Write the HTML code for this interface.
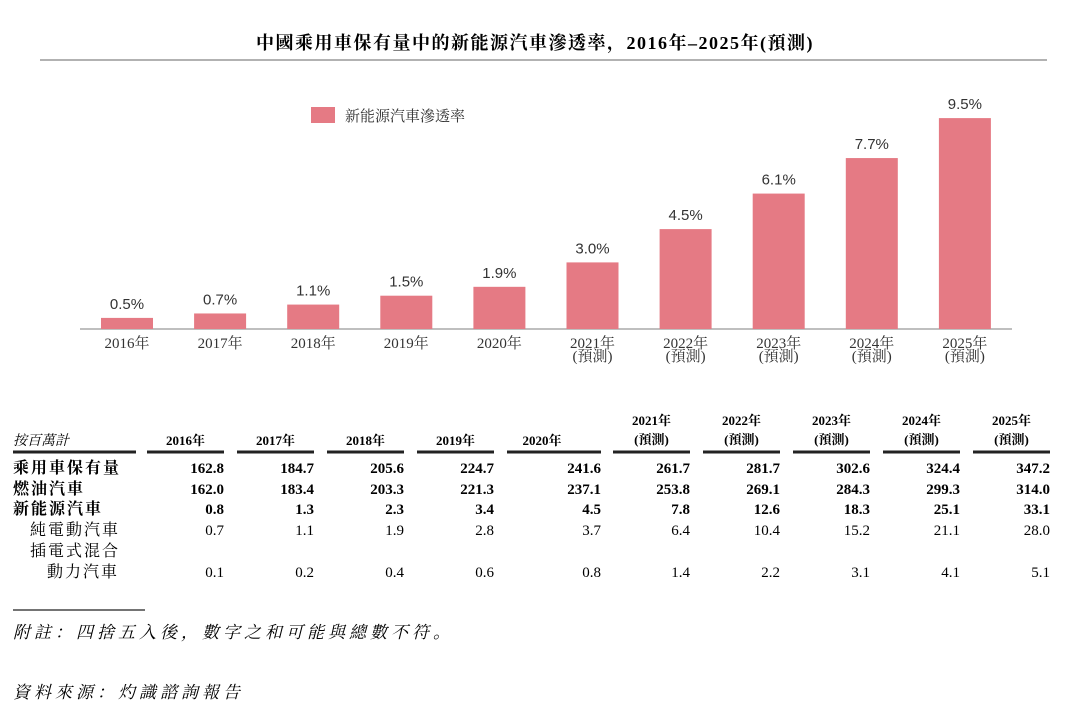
<!DOCTYPE html>
<html><head><meta charset="utf-8"><style>
body{margin:0;width:1080px;height:715px;background:#fff;overflow:hidden;font-family:"Liberation Serif","Noto Serif CJK SC","Noto Sans CJK TC",serif;color:#222}
svg text{font-family:"Liberation Serif","Noto Serif CJK SC","Noto Sans CJK TC",serif}
</style></head><body>
<svg id="chart" width="1080" height="715" style="position:absolute;left:0;top:0">
<text x="535" y="49" text-anchor="middle" font-size="18" font-weight="bold" letter-spacing="1.5">中國乘用車保有量中的新能源汽車滲透率，2016年–2025年(預測)</text>
<line x1="40" y1="60" x2="1047" y2="60" stroke="#999" stroke-width="1.5"/>
<rect x="311" y="107" width="24" height="16" fill="#e57a84"/>
<text x="345" y="121" font-size="15" fill="#333">新能源汽車滲透率</text>
<line x1="80" y1="329" x2="1012" y2="329" stroke="#aaa" stroke-width="1.5"/>
<g id="bars"></g>
<g id="table"></g>
<line x1="13" y1="610" x2="145" y2="610" stroke="#222" stroke-width="1.2"/>
<text x="13" y="638" font-size="17" font-style="italic" letter-spacing="4">附註：四捨五入後，數字之和可能與總數不符。</text>
<text x="13" y="698" font-size="17" font-style="italic" letter-spacing="4">資料來源：灼識諮詢報告</text>
</svg>
<script>
const years=["2016","2017","2018","2019","2020","2021","2022","2023","2024","2025"];
const forecast=[false,false,false,false,false,true,true,true,true,true];
const penetration=[0.5,0.7,1.1,1.5,1.9,3.0,4.5,6.1,7.7,9.5];
const rowLabels=["乘用車保有量","燃油汽車","新能源汽車","純電動汽車","動力汽車"];
const rowBold=[true,true,true,false,false];
const totalCars=[162.8,184.7,205.6,224.7,241.6,261.7,281.7,302.6,324.4,347.2];
const fuelCars=[162.0,183.4,203.3,221.3,237.1,253.8,269.1,284.3,299.3,314.0];
const nevCars=[0.8,1.3,2.3,3.4,4.5,7.8,12.6,18.3,25.1,33.1];
const bevCars=[0.7,1.1,1.9,2.8,3.7,6.4,10.4,15.2,21.1,28.0];
const phevCars=[0.1,0.2,0.4,0.6,0.8,1.4,2.2,3.1,4.1,5.1];
const NS="http://www.w3.org/2000/svg";
function mk(tag,attrs,parent,txt){const e=document.createElementNS(NS,tag);for(const k in attrs)e.setAttribute(k,attrs[k]);if(txt!==undefined)e.textContent=txt;parent.appendChild(e);return e;}
const base=329,scale=22.2,x0=127,step=93.1,bw=52;
const xS=i=>x0+i*step, yS=v=>base-v*scale;
const bars=document.getElementById('bars');
years.forEach((y,i)=>{
 const cx=xS(i);
 const r=mk('rect',{x:cx-bw/2,y:yS(penetration[i]),width:bw,height:base-yS(penetration[i]),fill:'#e57a84'},bars);
 
 
 const l=mk('text',{x:cx,y:yS(penetration[i])-9,'text-anchor':'middle','font-size':'15',fill:'#333',style:'font-family:"Liberation Sans",sans-serif'},bars,penetration[i].toFixed(1)+'%');
 
 
 const t=mk('text',{x:cx,y:348,'text-anchor':'middle','font-size':'15',fill:'#333'},bars,y+'年');
 
 
 if(forecast[i]){const f=mk('text',{x:cx,y:361,'text-anchor':'middle','font-size':'15',fill:'#333'},bars,'(預測)');
 
 }
});
const tb=document.getElementById('table');
const colR=[224,314,404,494,601,690,780,870,960,1050];
const colL=[147,237,327,417,507,613,703,793,883,973];
const h0=mk('text',{x:13,y:445,'font-size':'14','font-style':'italic'},tb,'按百萬計');


const hl=mk('line',{x1:13,y1:452,x2:136,y2:452,stroke:'#222','stroke-width':3},tb);


years.forEach((y,i)=>{
 const cx=(colL[i]+colR[i])/2;
 const ln=mk('line',{x1:colL[i],y1:452,x2:colR[i],y2:452,stroke:'#222','stroke-width':3},tb);
 
 
 if(forecast[i]){
  const a=mk('text',{x:cx,y:425,'text-anchor':'middle','font-size':'13','font-weight':'bold'},tb,y+'年');
  
  
  const b=mk('text',{x:cx,y:444,'text-anchor':'middle','font-size':'13','font-weight':'bold'},tb,'(預測)');
  
  
 } else {
  const a=mk('text',{x:i==4?cx-12:cx,y:445,'text-anchor':'middle','font-size':'13','font-weight':'bold'},tb,y+'年');
  
  
 }
});
const rowsData=[totalCars,fuelCars,nevCars,bevCars,phevCars];
const rowY=[473,494,514,535,577];
const rowX=[13,13,13,30,47];
rowLabels.forEach((lab,r)=>{
 const t=mk('text',{x:rowX[r],y:rowY[r],'font-size':'16','font-weight':rowBold[r]?'bold':'normal','letter-spacing':'2'},tb,lab);
 
 
 rowsData[r].forEach((v,i)=>{
  const c=mk('text',{x:colR[i],y:rowY[r],'text-anchor':'end','font-size':'15','font-weight':rowBold[r]?'bold':'normal'},tb,v.toFixed(1));
  
  
 });
});
const p=mk('text',{x:30,y:556,'font-size':'16','letter-spacing':'2'},tb,'插電式混合');


</script>
</body></html>
